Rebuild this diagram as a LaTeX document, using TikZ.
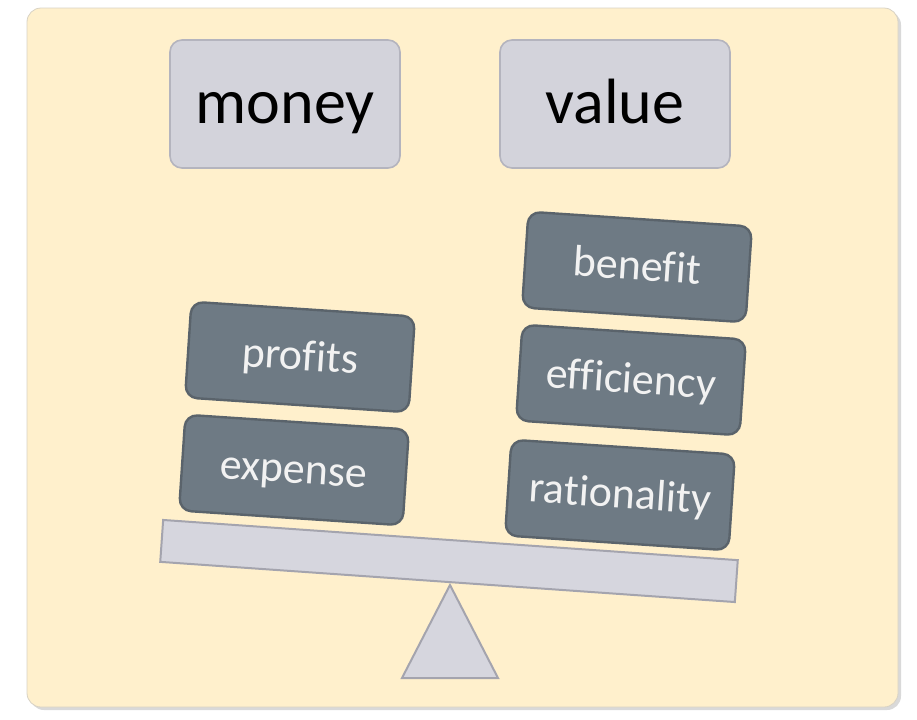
\documentclass[tikz,border=0pt]{standalone}
\usepackage{fontspec}
\setmainfont{Carlito}[Ligatures=NoCommon]
\usetikzlibrary{shadows}
\definecolor{panelfill}{HTML}{FFF0CC}
\definecolor{panelrim}{HTML}{D8D2C4}
\definecolor{boxfill}{HTML}{D3D3DB}
\definecolor{boxedge}{HTML}{B4B4BE}
\definecolor{weightfill}{HTML}{6E7A84}
\definecolor{weightedge}{HTML}{5A636B}
\definecolor{beamfill}{HTML}{D6D6DE}
\definecolor{beamedge}{HTML}{A4A4AE}
\begin{document}
\begin{tikzpicture}[x=0.5pt,y=-0.5pt,
    box/.style={draw=boxedge, line width=0.8pt, fill=boxfill, rounded corners=6pt,
      minimum width=115pt, minimum height=64pt, text height=22pt, text depth=3pt,
      font=\fontsize{32}{36}\selectfont},
    weight/.style={draw=weightedge, line width=1.2pt, fill=weightfill, text=white!95!black,
      rounded corners=6pt, minimum width=112pt, minimum height=48pt, rotate=-3.8,
      text height=15pt, text depth=2pt, font=\fontsize{22}{26}\selectfont}]
        \useasboundingbox (0,0) rectangle (917,719);
        % background card
        \path[fill=panelfill, draw=panelrim, rounded corners=7pt,
          drop shadow={shadow xshift=1.5pt, shadow yshift=-1.5pt, opacity=0.3}] (27,8) rectangle (898,707);
        \node[box] (money) at (285,104) {money};
        \node[box] (value) at (615,104) {value};
        % the balance
        \node[draw=beamedge, line width=1pt, fill=beamfill, minimum width=288pt, minimum height=21pt, rotate=-4] (beam) at (449,561) {};
        \coordinate (pivot) at (450,585);
        \filldraw[draw=beamedge, line width=1pt, fill=beamfill] (pivot) -- (498,678) -- (402,678) -- cycle;
        \node[weight] (expense) at (294,470) {expense};
        \node[weight] (profits) at (300,357) {profits};
        \node[weight] (rationality) at (620,495) {rationality};
        \node[weight] (efficiency) at (631,380) {efficiency};
        \node[weight] (benefit) at (637,267) {benefit};
\end{tikzpicture}
\end{document}
